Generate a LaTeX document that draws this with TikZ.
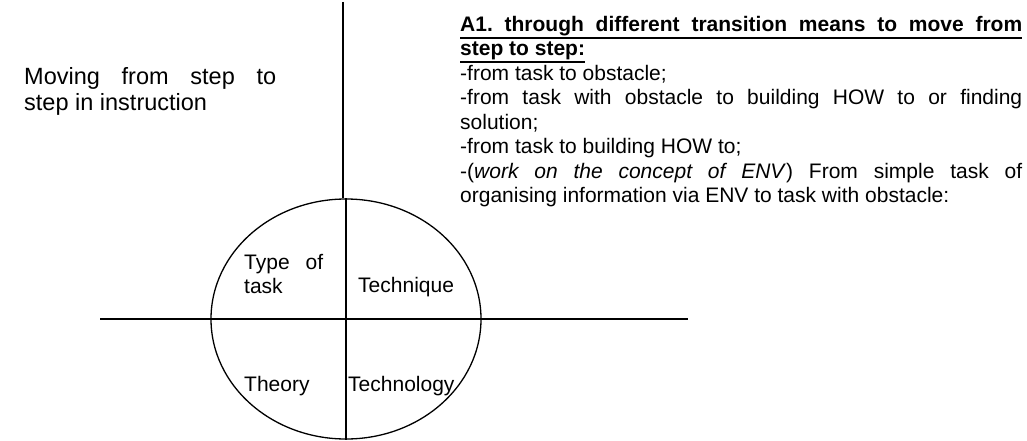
\documentclass[tikz,border=0pt]{standalone}
\usepackage{fontspec}
\setmainfont{Liberation Sans}
\usepackage{tikz}
\usetikzlibrary{shapes.geometric}

\newcommand{\ulbox}[1]{\leavevmode\vtop{\hbox{#1}\kern1.2pt\hrule height 1.8pt}}
\frenchspacing

\begin{document}
\begin{tikzpicture}[x=1pt, y=-1pt,
        bar/.style={line width=1.6pt},
        cell/.style={inner sep=0, font=\fontsize{21}{24.5}\selectfont},
        para/.style={cell, anchor=north west, align=justify}
    ]
        \useasboundingbox (0,0) rectangle (1027,441);

        % Ellipse and axes
        \node[ellipse, draw, line width=1.3pt, minimum width=270pt, minimum height=240pt, inner sep=0] (ato) at (346,319) {};
        \coordinate (top) at (343,2);
        \coordinate (west) at (100,319);
        \coordinate (east) at (688,319);
        \draw[bar] (top) -- (top |- ato.north);
        \draw[bar] (ato.north) -- (ato.south);
        \draw[bar] (west) -- (east);

        % Quadrants
        \node[para, text width=79pt] (type) at (244,254) {Type of\linebreak task};
        \node[cell, anchor=base west] (technique) at (358,292) {Technique};
        \node[cell, anchor=base west] (theory) at (244,391) {Theory};
        \node[cell, anchor=base west] (technology) at (348,391) {Technology};

        % Texts
        \node[para, text width=252pt, font=\fontsize{23.5}{26}\selectfont] (title) at (24,67) {Moving from step to\linebreak step in instruction};
        \node[para, text width=562pt] (moves) at (460,16) {%
            \ulbox{\makebox[562pt][s]{\bfseries A1. through different transition means to move from}}\\
            \ulbox{\bfseries step to step:}\\
            -from task to obstacle;\\
            -from task with obstacle to building HOW to or finding\linebreak
            solution;\\
            -from task to building HOW to;\\
            -(\textit{work on the concept of ENV}) From simple task of\linebreak
            organising information via ENV to task with obstacle:};
    \end{tikzpicture}
\end{document}
